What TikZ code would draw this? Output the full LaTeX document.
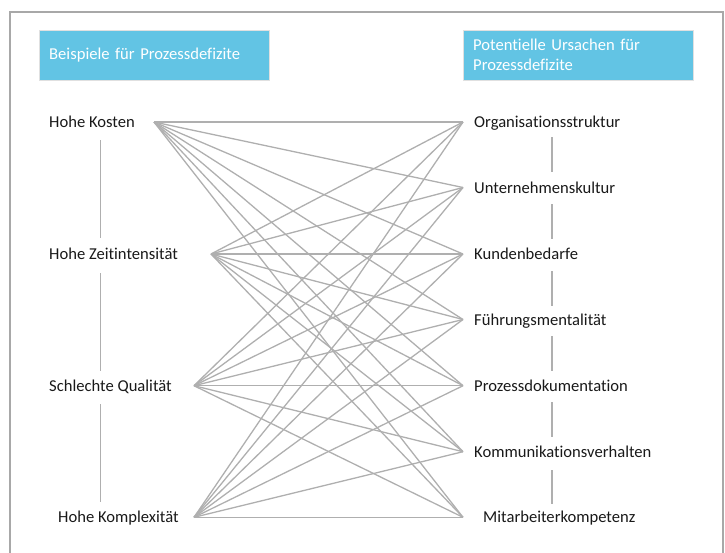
\documentclass[tikz,border=0pt]{standalone}
\usepackage{fontspec}
\setmainfont{Carlito}[Ligatures=NoCommon]
\definecolor{headblue}{RGB}{98,196,228}
\definecolor{linegray}{RGB}{175,175,175}
\definecolor{framegray}{RGB}{168,168,168}

\begin{document}
\begin{tikzpicture}[x=1pt,y=-1pt,
  lbl/.style={anchor=base west, inner sep=0pt, text=black!90, font=\fontsize{16.6}{19}\selectfont},
  head/.style={anchor=north west, fill=headblue, draw=black!12, minimum width=230pt, minimum height=50pt,
    text width=210pt, inner xsep=10pt, inner ysep=0pt, align=left, text=white, font=\fontsize{16.6}{20}\selectfont},
  link/.style={linegray, line width=1.3pt}]

 \useasboundingbox (0,0) rectangle (725,552);
 \draw[framegray, line width=1.5pt] (10,12) rectangle (723,580);

 \node[head] (hleft) at (39,30) {Beispiele für Prozessdefizite};
 \node[head] (hright) at (463,30) {Potentielle Ursachen für\\Prozessdefizite};

 \node[lbl] (kosten) at (49,127.5) {Hohe Kosten};
 \node[lbl] (zeit) at (49,259.5) {Hohe Zeitintensität};
 \node[lbl] (quali) at (49,391.2) {Schlechte Qualität};
 \node[lbl] (komplex) at (58,522.8) {Hohe Komplexität};

 \node[lbl] (orga) at (474,127.5) {Organisationsstruktur};
 \node[lbl] (kultur) at (474,193) {Unternehmenskultur};
 \node[lbl] (kunden) at (474,259.5) {Kundenbedarfe};
 \node[lbl] (fuehrung) at (474,325) {Führungsmentalität};
 \node[lbl] (doku) at (474,391.2) {Prozessdokumentation};
 \node[lbl] (komm) at (474,457.2) {Kommunikationsverhalten};
 \node[lbl] (mitarb) at (483,522.8) {Mitarbeiterkompetenz};

 % end points of the connectors
 \coordinate (d1) at (154,122);
 \coordinate (d2) at (211,254);
 \coordinate (d3) at (194,385.7);
 \coordinate (d4) at (194,517.3);
 \coordinate (u1) at (463,122);
 \coordinate (u2) at (463,187.5);
 \coordinate (u3) at (463,254);
 \coordinate (u4) at (463,319.5);
 \coordinate (u5) at (463,385.7);
 \coordinate (u6) at (463,451.7);
 \coordinate (u7) at (463,517.3);

 \foreach \d in {1,...,4}
  \foreach \u in {1,...,7}
   \draw[link] (d\d) -- (u\u);

 \foreach \a/\b in {140/238, 273/371, 404/502}
  \draw[link] (100.5,\a) -- (100.5,\b);
 \foreach \a/\b in {137/172, 204/239, 271/306, 336/371, 402/437, 470/504}
  \draw[link] (552,\a) -- (552,\b);

\end{tikzpicture}
\end{document}
